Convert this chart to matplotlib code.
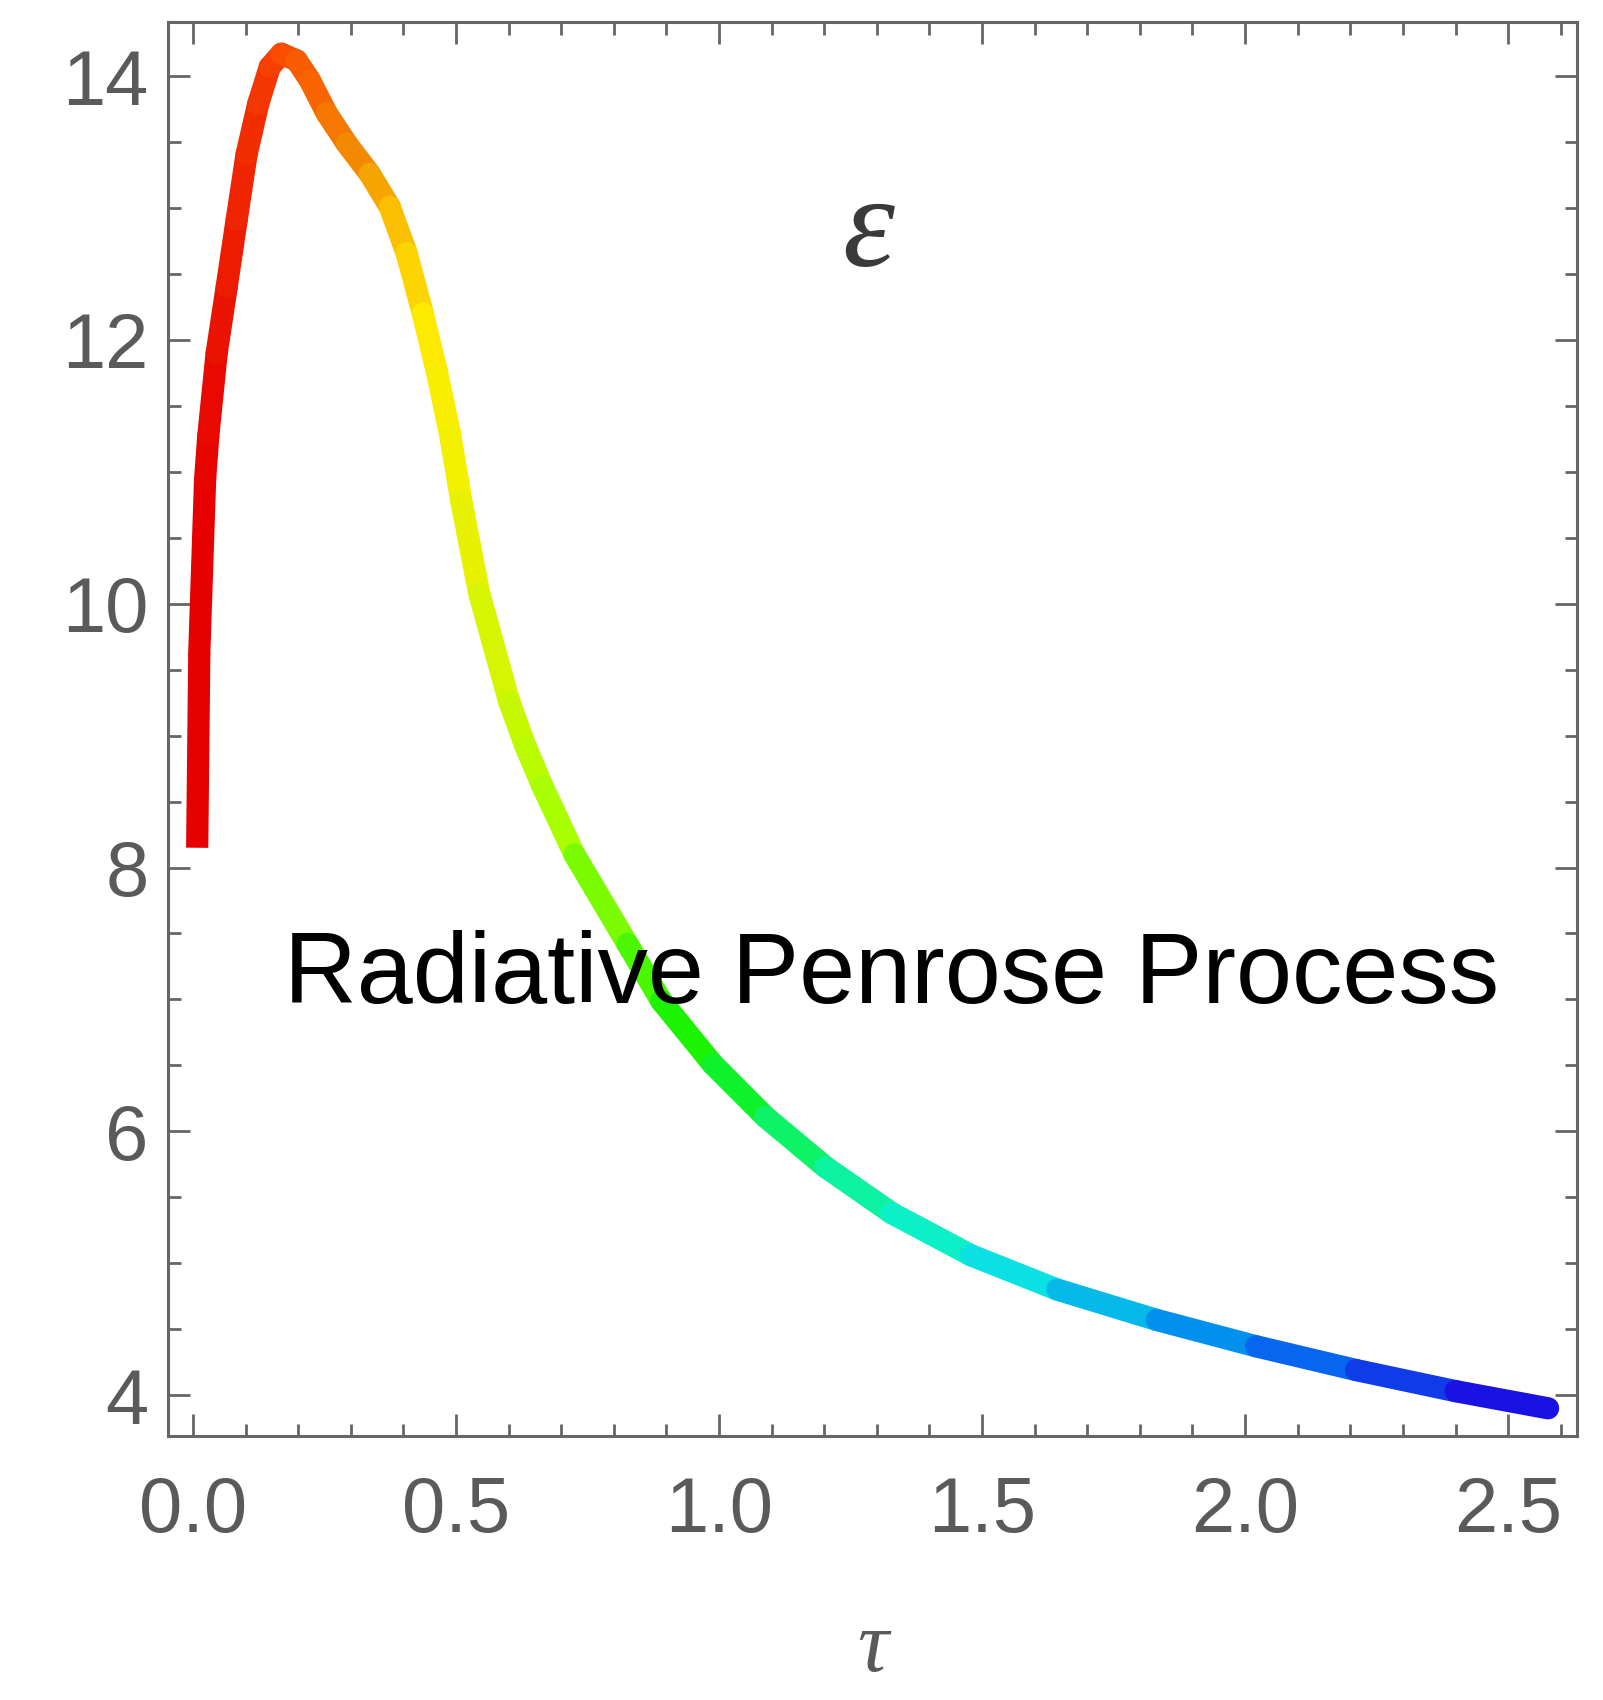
import numpy as np
import matplotlib.pyplot as plt
from matplotlib.collections import LineCollection
from matplotlib.colors import LinearSegmentedColormap
from matplotlib.ticker import MultipleLocator

# values
tau = [0.008, 0.012, 0.023, 0.029, 0.045, 0.064, 0.083, 0.102, 0.124, 0.146,
       0.168, 0.197, 0.222, 0.254, 0.292, 0.336, 0.374, 0.406, 0.437, 0.463,
       0.488, 0.510, 0.544, 0.601, 0.632, 0.664, 0.725, 0.826, 0.890, 0.988,
       1.088, 1.202, 1.328, 1.479, 1.643, 1.832, 2.021, 2.211, 2.400, 2.576]
eps = [8.15, 9.63, 10.94, 11.27, 11.90, 12.40, 12.91, 13.41, 13.79, 14.07,
       14.17, 14.12, 13.97, 13.72, 13.49, 13.26, 13.01, 12.66, 12.20, 11.77,
       11.30, 10.78, 10.08, 9.26, 8.92, 8.62, 8.10, 7.42, 6.99, 6.51,
       6.11, 5.73, 5.38, 5.06, 4.80, 4.57, 4.37, 4.19, 4.03, 3.90]
xticks = [0.0, 0.5, 1.0, 1.5, 2.0, 2.5]
yticks = [4, 6, 8, 10, 12, 14]
title_text = "Radiative Penrose Process"

plt.rcParams['font.family'] = ['Liberation Sans', 'DejaVu Sans']

# colour goes red -> yellow -> green -> cyan -> blue along tau
stops = [(0.0, (0.90, 0.0, 0.0)), (0.066, (0.98, 0.30, 0.0)),
         (0.12, (0.95, 0.55, 0.0)), (0.175, (1.0, 0.93, 0.0)),
         (0.27, (0.65, 1.0, 0.0)), (0.37, (0.05, 0.95, 0.0)),
         (0.48, (0.05, 0.95, 0.6)), (0.58, (0.05, 0.93, 0.88)),
         (0.78, (0.0, 0.50, 0.95)), (1.0, (0.12, 0.0, 0.88))]
cmap = LinearSegmentedColormap.from_list("rp", stops)

fig = plt.figure(figsize=(16.03, 17), dpi=100)
ax = fig.add_axes([0.1048, 0.1553, 0.8790, 0.8317])

x = np.array(tau)
y = np.array(eps)
pts = np.column_stack([x, y]).reshape(-1, 1, 2)
segs = np.concatenate([pts[:-1], pts[1:]], axis=1)
cval = (0.5 * (x[:-1] + x[1:]) - x[0]) / (x[-1] - x[0])

# first piece with a flat end, the rest with round caps so joins are seamless
first = LineCollection(segs[:1], cmap=cmap, linewidths=16, capstyle='butt')
first.set_array(cval[:1])
first.set_clim(0, 1)
ax.add_collection(first)
rest = LineCollection(segs[1:], cmap=cmap, linewidths=16, capstyle='round',
                      joinstyle='round')
rest.set_array(cval[1:])
rest.set_clim(0, 1)
ax.add_collection(rest)

ax.set_xlim(-0.0475, 2.631)
ax.set_ylim(3.69, 14.41)

gray = '#5a5a5a'
for s in ax.spines.values():
    s.set_color('#666666')
    s.set_linewidth(2.2)

ax.set_xticks(xticks)
ax.set_xticklabels([f"{v:.1f}" for v in xticks])
ax.set_yticks(yticks)
ax.xaxis.set_minor_locator(MultipleLocator(0.1))
ax.yaxis.set_minor_locator(MultipleLocator(0.5))
ax.tick_params(which='both', direction='in', top=True, right=True,
               color='#666666', width=2.0, labelcolor=gray, labelsize=56)
ax.tick_params(which='major', length=16)
ax.tick_params(which='minor', length=9)
ax.tick_params(axis='x', pad=28)
ax.tick_params(axis='y', pad=14)

ax.set_xlabel("τ", fontsize=62, color=gray, family='Liberation Serif',
              style='italic', labelpad=45)
ax.text(1.283, 12.8, "ε", fontsize=95, color='#3a3a3a', family='Liberation Serif',
        style='italic', ha='center', va='center')
ax.text(0.1725, 6.97, title_text, fontsize=72.5, color='black',
        ha='left', va='baseline')

fig.savefig("out.png", dpi=100)
